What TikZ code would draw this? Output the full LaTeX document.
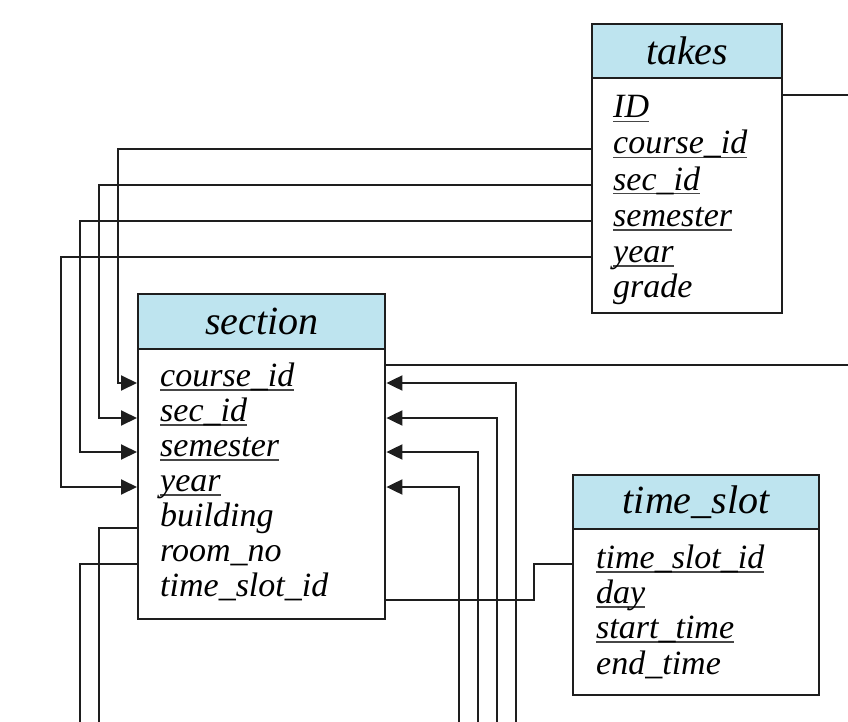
\documentclass[tikz,border=0pt]{standalone}
\usepackage{fontspec}
\setmainfont{Liberation Serif}
\usetikzlibrary{arrows.meta}
\definecolor{hdrblue}{RGB}{190,228,239}
\definecolor{inkgray}{RGB}{30,30,30}
\definecolor{ulgray}{RGB}{70,70,70}
\newcommand{\ulk}[1]{\setbox0\hbox{#1}\rlap{\textcolor{ulgray}{\rule[-4.5pt]{\wd0}{1.2pt}}}\box0}
\begin{document}
\begin{tikzpicture}[x=1pt,y=-1pt,
 hdr/.style={draw=inkgray,line width=2.4pt,fill=hdrblue,anchor=north west,inner sep=0pt,font=\fontsize{40}{44}\selectfont\itshape},
 bodybox/.style={draw=inkgray,line width=2.4pt,fill=white,anchor=north west,inner sep=0pt},
 attr/.style={anchor=base west,inner sep=0pt,font=\fontsize{34}{38}\selectfont\itshape},
 conn/.style={line width=2pt,draw=inkgray},
 arr/.style={conn,-{Triangle[length=16pt,width=15pt]}}]
\useasboundingbox (0,0) rectangle (848,722);

% ---------- takes ----------
\node[bodybox,minimum width=190pt,minimum height=235pt] (takesB) at (591,77) {};
\node[hdr,minimum width=190pt,minimum height=54pt] (takesH) at (591,23) {takes};
\node[attr] (tk1) at (613,118) {\ulk{ID}};
\node[attr] (tk2) at (613,154) {\ulk{course\_id}};
\node[attr] (tk3) at (613,190) {\ulk{sec\_id}};
\node[attr] (tk4) at (613,226) {\ulk{semester}};
\node[attr] (tk5) at (613,262) {\ulk{year}};
\node[attr] (tk6) at (613,297) {grade};

% ---------- section ----------
\node[bodybox,minimum width=247pt,minimum height=270pt] (secB) at (137,348) {};
\node[hdr,minimum width=247pt,minimum height=55pt] (secH) at (137,293) {section};
\node[attr] (s1) at (160,386) {\ulk{course\_id}};
\node[attr] (s2) at (160,421) {\ulk{sec\_id}};
\node[attr] (s3) at (160,456) {\ulk{semester}};
\node[attr] (s4) at (160,491) {\ulk{year}};
\node[attr] (s5) at (160,526) {building};
\node[attr] (s6) at (160,561) {room\_no};
\node[attr] (s7) at (160,596) {time\_slot\_id};

% ---------- time_slot ----------
\node[bodybox,minimum width=246pt,minimum height=166pt] (tsB) at (572,528) {};
\node[hdr,minimum width=246pt,minimum height=54pt] (tsH) at (572,474) {time\_slot};
\node[attr] (ts1) at (596,568) {\ulk{time\_slot\_id}};
\node[attr] (ts2) at (596,603) {\ulk{day}};
\node[attr] (ts3) at (596,638) {\ulk{start\_time}};
\node[attr] (ts4) at (596,674) {end\_time};

% ---------- ports ----------
\coordinate (tkP2) at (takesB.west |- 0,149);
\coordinate (tkP3) at (takesB.west |- 0,185);
\coordinate (tkP4) at (takesB.west |- 0,221);
\coordinate (tkP5) at (takesB.west |- 0,257);
\coordinate (tkOut) at (takesB.east |- 0,95);
\coordinate (tkEnd) at (848,95);

\coordinate (sW1) at (secB.west |- 0,383);
\coordinate (sW2) at (secB.west |- 0,418);
\coordinate (sW3) at (secB.west |- 0,452);
\coordinate (sW4) at (secB.west |- 0,487);
\coordinate (sW5) at (secB.west |- 0,528);
\coordinate (sW6) at (secB.west |- 0,564);
\coordinate (sE1) at (secB.east |- 0,383);
\coordinate (sE2) at (secB.east |- 0,418);
\coordinate (sE3) at (secB.east |- 0,452);
\coordinate (sE4) at (secB.east |- 0,487);
\coordinate (sE7) at (secB.east |- 0,600);
\coordinate (sTop) at (secB.east |- 0,365);
\coordinate (sTopEnd) at (848,365);
\coordinate (tsP1) at (tsB.west |- 0,564);

\coordinate (bot1) at (516,722);
\coordinate (bot2) at (497,722);
\coordinate (bot3) at (478,722);
\coordinate (bot4) at (459,722);
\coordinate (botB) at (99,722);
\coordinate (botR) at (80,722);

% ---------- connectors ----------
\draw[conn] (tkOut) -- (tkEnd);
\draw[conn] (sTop) -- (sTopEnd);

\draw[arr] (tkP2) -| (118,383) -- (sW1);
\draw[arr] (tkP3) -| (99,418) -- (sW2);
\draw[arr] (tkP4) -| (80,452) -- (sW3);
\draw[arr] (tkP5) -| (61,487) -- (sW4);

\draw[conn] (sW5) -| (botB);
\draw[conn] (sW6) -| (botR);

\draw[arr] (bot1) |- (sE1);
\draw[arr] (bot2) |- (sE2);
\draw[arr] (bot3) |- (sE3);
\draw[arr] (bot4) |- (sE4);

\draw[conn] (sE7) -| (534,564) -- (tsP1);
\end{tikzpicture}
\end{document}
